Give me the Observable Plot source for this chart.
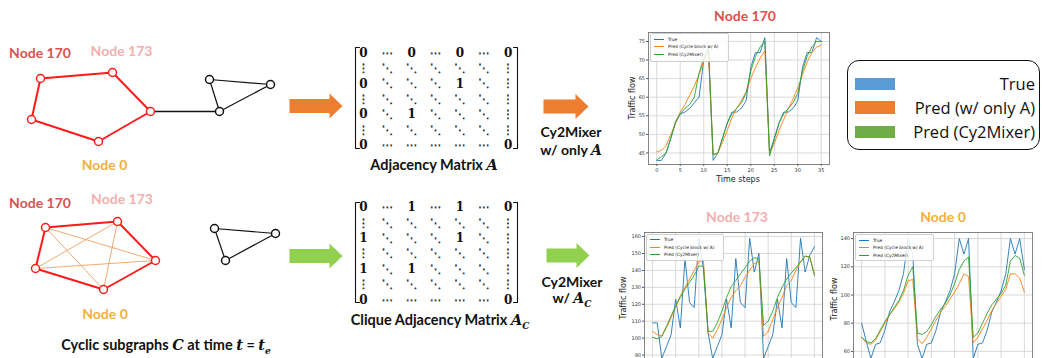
<!DOCTYPE html>
<html><head><meta charset="utf-8">
<script src="https://cdn.jsdelivr.net/npm/d3@7"></script>
<script src="https://cdn.jsdelivr.net/npm/@observablehq/plot@0.6"></script>
<style>
body{margin:0;background:#fff;}
#root{position:relative;width:1042px;height:358px;overflow:hidden;background:#fff;font-family:Lato,"Open Sans",sans-serif;}
.lbl{position:absolute;white-space:nowrap;transform:translate(-50%,-50%);font-weight:bold;line-height:1;}
.math{font-family:"DejaVu Serif","Liberation Serif",serif;font-style:italic;font-weight:bold;}
svg{overflow:visible;}
.leg{position:absolute;background:rgba(255,255,255,0.85);border:0.6px solid #d0d0d0;border-radius:2px;font-family:"DejaVu Sans",sans-serif;font-size:4.4px;color:#222;}
.leg .row{position:absolute;left:3px;height:6px;display:flex;align-items:center;white-space:nowrap;}
.leg .sw{display:inline-block;width:10px;height:0;border-top:1px solid;margin-right:4px;}
</style></head><body><div id="root"></div>
<script>
// ---------------- data ----------------
const timeSteps = d3.range(36);
const xTicks = [0, 5, 10, 15, 20, 25, 30, 35];
const seriesNames = ["True", "Pred (Cycle block w/ A)", "Pred (Cy2Mixer)"];
const bigLegendLabels = ["True", "Pred (w/ only A)", "Pred (Cy2Mixer)"];

const node170True = [43,43,45,49,53,55.5,56,57,58.5,60,70,73, 43,45,49,53,56,56,57,59,68,72,72,76, 45,49,53,56,56,57,59,68,72,72,76,75];
const node170PredA = [45.3,45.7,47,50,53,56,58,60.5,63,66,69.5,72, 44.5,45,48,51,54.5,57,59,61.5,65,68,70.5,72.5, 45,47.5,51,54,57,59.5,62.5,66,69.5,72,73.5,74];
const node170Cy2 = [43.2,44,45,49,53.5,55.5,57,58,60,66.5,70.5,73.5, 44.5,45,49,53,55.5,57,58.5,61,67,71,73.5,75, 44.2,48.5,53,55.5,57,58.5,61,67,71,73.5,75,75];
const node170YTicks = [45, 50, 55, 60, 65, 70, 75];

const node173True = [109,109,88,95,102,123,106,147,121,118,159,141, 103,88,95,102,123,106,147,121,118,159,139,150, 88,95,102,123,106,147,121,118,159,139,149,154];
const node173PredA = [104,102,101.5,106,112,119,125,130,135,140,145,146, 103,100,105,111,118,124,128,131,136,140,144,145.5, 101,104,111,118,124,131,134,140,145,148.5,147.5,138];
const node173Cy2 = [100.5,99.5,101,107,113,119,124,129,133,137,142.5,142.5, 104,104,109,116,124,130.5,134,138,141.5,145.5,147.5,147, 107.5,110,116,124,130,135,138.5,141.5,145,148.5,148,137];
const node173YTicks = [90, 100, 110, 120, 130, 140, 150, 160];

const node0True = [80,67,55,65,66,75,88,95,103,115,140,129, 65,55,65,66,75,88,95,103,115,140,129,140, 55,65,66,75,88,95,103,115,140,129,140,118];
const node0PredA = [70,66,65,68,74,80,86,90,95,101,110,111, 69,65.5,70,76,82,88,92,97,102,108,115,113, 66,70,76,82,89,94,99,104,115,115,112,102];
const node0Cy2 = [70,67,66,69,75,81,86,91,96,103,114,120, 73,72,74,79,85,90,94,100,108,118,124,127, 70,73,80,87,93,97,101,107,124,128,126,114];
const node0YTicks = [60, 80, 100, 120, 140];

// diagram data
const cycleTop = [[40,78],[112,72],[150,111],[98,141],[31,119]];
const bridgeTop = [[150,111],[219,111]];
const triangleTop = [[209,79],[270,84],[219,111]];
const cycleBottom = [[45,227],[117,221],[155,260],[103,289],[35,268]];
const chordPairs = [[0,2],[0,3],[1,3],[1,4],[2,4]];
const triangleBottom = [[214,228],[275,233],[225,260]];

const matrixA = [
  ["0","⋯","0","⋯","0","⋯","0"],
  ["⋮","⋱","⋱","⋱","⋱","⋱","⋮"],
  ["0","⋱","⋱","⋱","1","⋱","⋮"],
  ["⋮","⋱","⋱","⋱","⋱","⋱","⋮"],
  ["0","⋱","1","⋱","⋱","⋱","⋮"],
  ["⋮","⋱","⋱","⋱","⋱","⋱","⋮"],
  ["0","⋯","⋯","⋯","⋯","⋯","0"]];
const matrixAC = [
  ["0","⋯","1","⋯","1","⋯","0"],
  ["⋮","⋱","⋱","⋱","⋱","⋱","⋮"],
  ["1","⋱","⋱","⋱","1","⋱","⋮"],
  ["⋮","⋱","⋱","⋱","⋱","⋱","⋮"],
  ["1","⋱","1","⋱","⋱","⋱","⋮"],
  ["⋮","⋱","⋱","⋱","⋱","⋱","⋮"],
  ["0","⋯","⋯","⋯","⋯","⋯","0"]];

// ---------------- layout & style ----------------
const lineColors = ["#1f77b4", "#ff7f0e", "#2ca02c"];
const swatchColors = ["#5B9BD5", "#ED7D31", "#70AD47"];
const red = "#FF1A1A";
const arrows = [
  {x1: 289, x2: 342, y: 105.5, color: "#ED7D31"},
  {x1: 543, x2: 588, y: 106, color: "#ED7D31"},
  {x1: 289, x2: 342, y: 255.5, color: "#92D050"},
  {x1: 546, x2: 589, y: 255, color: "#92D050"}];
const matrices = [
  {cells: matrixA, top: 47, bottom: 148, y0: 52.5},
  {cells: matrixAC, top: 202, bottom: 302, y0: 207}];
const matrixX0 = 363, matrixDX = 24.1, matrixDY = 15.4, bracketL = 355, bracketR = 517;

const root = document.getElementById("root");

// ---------------- diagram (Plot with identity scales) ----------------
const edges = [];
const addCycle = (pts, color, w) => pts.forEach((p, i) => { const q = pts[(i + 1) % pts.length]; edges.push({x1:p[0],y1:p[1],x2:q[0],y2:q[1],color,w}); });
chordPairs.forEach(([a, b]) => edges.push({x1:cycleBottom[a][0],y1:cycleBottom[a][1],x2:cycleBottom[b][0],y2:cycleBottom[b][1],color:"#F0A060",w:0.9}));
addCycle(cycleTop, red, 2);
addCycle(cycleBottom, red, 2);
edges.push({x1:bridgeTop[0][0],y1:bridgeTop[0][1],x2:bridgeTop[1][0],y2:bridgeTop[1][1],color:"#111",w:1.4});
addCycle(triangleTop, "#111", 1.2);
addCycle(triangleBottom, "#111", 1.2);
const nodes = [
  ...cycleTop.map(p => ({x:p[0], y:p[1], color:red})),
  ...cycleBottom.map(p => ({x:p[0], y:p[1], color:red})),
  ...triangleTop.map(p => ({x:p[0], y:p[1], color:"#111"})),
  ...triangleBottom.map(p => ({x:p[0], y:p[1], color:"#111"}))];

const arrowPolys = arrows.flatMap((a, k) => {
  const hl = 13, hh = 12.5, bh = 7, xh = a.x2 - hl;
  return [[a.x1,a.y-bh],[xh,a.y-bh],[xh,a.y-hh],[a.x2,a.y],[xh,a.y+hh],[xh,a.y+bh],[a.x1,a.y+bh]]
    .map(([x, y]) => ({x, y, k, color: a.color}));
});
const cells = matrices.flatMap((m, mi) => m.cells.flatMap((row, r) => row.map((v, c) => ({
  v, x: matrixX0 + c * matrixDX, y: m.y0 + r * matrixDY, digit: /[01]/.test(v)}))));
const brackets = matrices.flatMap((m, mi) => [
  [[bracketL + 4, m.top], [bracketL, m.top], [bracketL, m.bottom], [bracketL + 4, m.bottom]],
  [[bracketR - 4, m.top], [bracketR, m.top], [bracketR, m.bottom], [bracketR - 4, m.bottom]]
].flatMap((pts, j) => pts.map(([x, y]) => ({x, y, z: mi * 2 + j}))));

const diagram = Plot.plot({
  width: 1042, height: 358, margin: 0,
  x: {type: "identity", axis: null}, y: {type: "identity", axis: null},
  style: {background: "transparent", overflow: "visible"},
  marks: [
    Plot.link(edges, {x1:"x1", y1:"y1", x2:"x2", y2:"y2", stroke:"color", strokeWidth:"w"}),
    Plot.dot(nodes, {x:"x", y:"y", r:4, fill:"white", stroke:"color", strokeWidth:1.5}),
    Plot.line(arrowPolys, {x:"x", y:"y", z:"k", fill:"color", stroke:null, curve:"linear-closed"}),
    Plot.line(brackets, {x:"x", y:"y", z:"z", stroke:"#111", strokeWidth:1.1}),
    Plot.text(cells.filter(d => d.digit), {x:"x", y:"y", text:"v", fontSize:12, fontWeight:"bold", fontFamily:"DejaVu Serif", fill:"#111"}),
    Plot.text(cells.filter(d => !d.digit), {x:"x", y:"y", text:"v", fontSize:11.5, fontFamily:"DejaVu Sans", fill:"#222", stroke:"#222", strokeWidth:0.35})
  ]
});
diagram.style.position = "absolute"; diagram.style.left = "0px"; diagram.style.top = "0px";
root.appendChild(diagram);

// ---------------- line charts ----------------
function lineChart(values, o) {
  const rows = values.flatMap((vals, s) => vals.map((v, i) => ({t: timeSteps[i], v, s: seriesNames[s]})));
  const plot = Plot.plot({
    width: o.width, height: o.height,
    marginLeft: o.ml, marginRight: o.mr, marginTop: o.mt, marginBottom: o.mb,
    x: {domain: [-1.75, 36.75]},
    y: {domain: o.yDomain},
    style: {fontSize: "5px", fontFamily: "DejaVu Sans", color: "#333", background: "transparent", overflow: "visible"},
    marks: [
      Plot.gridX(xTicks, {stroke: "#cfcfcf", strokeOpacity: 1, strokeWidth: 0.8}),
      Plot.gridY(o.yTicks, {stroke: "#cfcfcf", strokeOpacity: 1, strokeWidth: 0.8}),
      o.xLabels
        ? Plot.axisX(xTicks, {tickSize: 2, tickPadding: 1.5, label: null, stroke: "#555"})
        : Plot.axisX(xTicks, {tickSize: 2, tickFormat: null, text: null, label: null, stroke: "#555"}),
      Plot.axisY(o.yTicks, {tickSize: 2, tickPadding: 1.5, label: null, stroke: "#555"}),
      ...seriesNames.map((n, s) => Plot.line(rows.filter(d => d.s === n), {x: "t", y: "v", stroke: lineColors[s], strokeWidth: 0.9})),
      Plot.frame({stroke: "#666", strokeWidth: 0.8})
    ]
  });
  plot.style.position = "absolute"; plot.style.left = o.left + "px"; plot.style.top = o.top + "px";
  root.appendChild(plot);
}
lineChart([node170True, node170PredA, node170Cy2], {left: 600, top: 0, width: 240, height: 190, ml: 48, mr: 11, mt: 32, mb: 26, yDomain: [41.9, 77.4], yTicks: node170YTicks, xLabels: true});
lineChart([node173True, node173PredA, node173Cy2], {left: 600, top: 205, width: 230, height: 170, ml: 44, mr: 8, mt: 27, mb: 11, yDomain: [84.4, 162.4], yTicks: node173YTicks, xLabels: false});
lineChart([node0True, node0PredA, node0Cy2], {left: 820, top: 205, width: 222, height: 170, ml: 33, mr: 10, mt: 27, mb: 11, yDomain: [50.7, 144.3], yTicks: node0YTicks, xLabels: false});

// ---------------- text ----------------
function label(html, x, y, css) {
  const d = document.createElement("div");
  d.className = "lbl"; d.innerHTML = html;
  d.style.left = x + "px"; d.style.top = y + "px";
  Object.assign(d.style, css || {});
  root.appendChild(d);
  return d;
}
const c170 = "#D9534F", c173 = "#F3AFAE", c0 = "#F0B040";
label("Node 170", 40, 53, {color: c170, fontSize: "14px"});
label("Node 173", 121.5, 51, {color: c173, fontSize: "14px"});
label("Node 0", 104.5, 165, {color: c0, fontSize: "14px"});
label("Node 170", 40, 203, {color: c170, fontSize: "14px"});
label("Node 173", 122, 199, {color: c173, fontSize: "14px"});
label("Node 0", 105, 314, {color: c0, fontSize: "14px"});
label('Cyclic subgraphs <span class="math">C</span> at time <span class="math">t</span> = <span class="math">t<sub style="font-size:9px">e</sub></span>', 166, 347, {fontSize: "14.5px", color: "#111"});
label('Adjacency Matrix <span class="math">A</span>', 434, 165, {fontSize: "14.5px", color: "#111"});
label('Clique Adjacency Matrix <span class="math">A<sub style="font-size:9px">C</sub></span>', 440, 322, {fontSize: "14.5px", color: "#111"});
label("Cy2Mixer", 571, 132, {fontSize: "14px", color: "#111"});
label('w/ only <span class="math">A</span>', 571, 149.5, {fontSize: "14px", color: "#111"});
label("Cy2Mixer", 572, 282, {fontSize: "14px", color: "#111"});
label('w/ <span class="math">A<sub style="font-size:9px">C</sub></span>', 572, 300, {fontSize: "14px", color: "#111"});
label("Node 170", 745, 16, {color: c170, fontSize: "14px"});
label("Node 173", 737, 217, {color: c173, fontSize: "14px"});
label("Node 0", 943, 217, {color: c0, fontSize: "14px"});

const axisFont = {fontFamily: "DejaVu Sans", fontWeight: "normal", fontSize: "8px", color: "#222"};
label("Time steps", 738, 180, axisFont);
label("Traffic flow", 633, 98, {...axisFont, transform: "translate(-50%,-50%) rotate(-90deg)"});
label("Traffic flow", 624, 298, {...axisFont, transform: "translate(-50%,-50%) rotate(-90deg)"});
label("Traffic flow", 835, 299, {...axisFont, transform: "translate(-50%,-50%) rotate(-90deg)"});

// inner matplotlib legends
function innerLegend(x, y, w, h) {
  const d = document.createElement("div");
  d.className = "leg";
  Object.assign(d.style, {left: x + "px", top: y + "px", width: w + "px", height: h + "px"});
  seriesNames.forEach((n, i) => {
    const r = document.createElement("div");
    r.className = "row"; r.style.top = (2 + i * 7.7) + "px";
    r.innerHTML = `<span class="sw" style="border-color:${lineColors[i]}"></span>${n}`;
    d.appendChild(r);
  });
  root.appendChild(d);
}
innerLegend(650, 33, 77, 27);
innerLegend(646, 233.5, 76, 25);
innerLegend(855, 234, 77, 25);

// big legend box
const big = document.createElement("div");
Object.assign(big.style, {position: "absolute", left: "847px", top: "60px", width: "193px", height: "90px", boxSizing: "border-box", border: "1.6px solid #111", borderRadius: "12px", fontFamily: "'Open Sans', sans-serif", fontSize: "16.5px", color: "#111"});
bigLegendLabels.forEach((t, i) => {
  const cy = [23, 46.5, 71][i];
  const sw = document.createElement("div");
  Object.assign(sw.style, {position: "absolute", left: "7px", top: (cy - 6.5) + "px", width: "40px", height: "12.5px", background: swatchColors[i]});
  big.appendChild(sw);
  const tx = document.createElement("div");
  Object.assign(tx.style, {position: "absolute", right: "4px", top: cy + "px", transform: "translateY(-50%)", whiteSpace: "nowrap", lineHeight: "1"});
  tx.textContent = t;
  big.appendChild(tx);
});
root.appendChild(big);
</script></body></html>
